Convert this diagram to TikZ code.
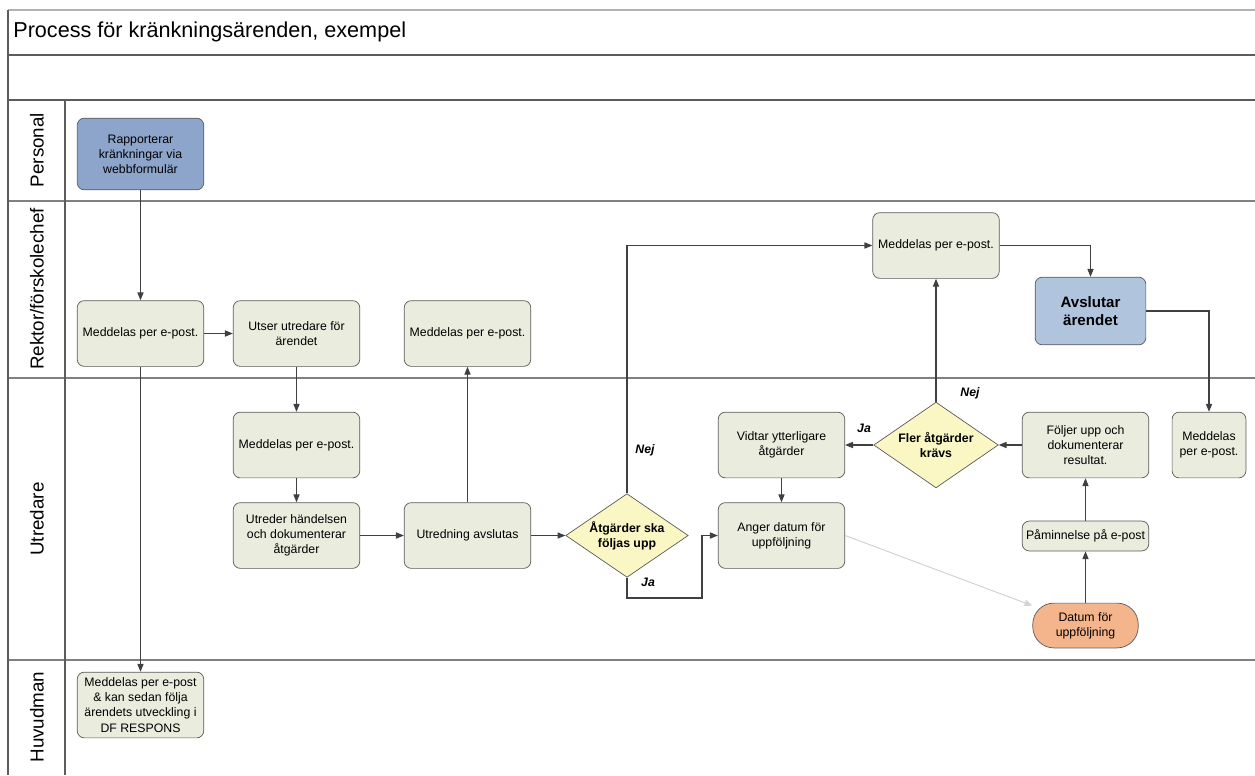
\documentclass[tikz,border=0pt]{standalone}
\usepackage{fontspec}
\setmainfont{Liberation Sans}
\usetikzlibrary{shapes.geometric,arrows.meta}
\definecolor{boxfill}{HTML}{EAEDDE}
\definecolor{boxline}{HTML}{5A5A5A}
\definecolor{startfill}{HTML}{8DA5CB}
\definecolor{endfill}{HTML}{B0C4DE}
\definecolor{choicefill}{HTML}{FBF7C4}
\definecolor{datefill}{HTML}{F5B58C}
\definecolor{flowline}{HTML}{404040}
\definecolor{lightline}{HTML}{D4D4D4}
\definecolor{frameline}{HTML}{5C5C5C}
\tikzset{
  box/.style={draw=boxline, fill=boxfill, rounded corners=4pt, align=center,
    minimum width=72pt, minimum height=37.4pt, inner sep=1pt,
    font=\fontsize{7}{8.6}\selectfont},
  choice/.style={diamond, draw=boxline, fill=choicefill, align=center,
    inner sep=0pt, aspect=1.5, minimum width=69.7pt, minimum height=47.6pt,
    font=\bfseries\fontsize{7}{8.6}\selectfont},
  lane/.style={rotate=90, font=\fontsize{10.7}{12}\selectfont},
  answer/.style={font=\bfseries\itshape\fontsize{7}{8}\selectfont},
  flow/.style={draw=flowline, line width=0.6pt, -{Triangle[length=4.5pt,width=3.5pt]}},
  frame/.style={draw=frameline, line width=0.9pt},
}
\begin{document}
\begin{tikzpicture}[x=0.02cm, y=-0.02cm]
  \useasboundingbox (0,0) rectangle (1255,775);
  % pool and lanes
  \draw[frame, draw=gray!60] (8,10) -- (1255,10);
  \draw[frame] (8,55) -- (1255,55);
  \draw[frame] (8,100) -- (1255,100);
  \draw[frame, draw=gray, line width=0.7pt] (8,201) -- (1255,201) (8,378) -- (1255,378) (8,660) -- (1255,660);
  \draw[frame] (8,10) -- (8,775) (65,100) -- (65,775);
  \node[anchor=west, inner sep=0pt, font=\fontsize{12.3}{14}\selectfont] (title) at (13,32) {Process för kränkningsärenden, exempel};
  \path
    (37,150) node[lane] (personal) {Personal}
    (37,289) node[lane] (rektor) {Rektor/förskolechef}
    (37,519) node[lane] (utredare) {Utredare}
    (37,717) node[lane] (huvudman) {Huvudman};
  % steps
  \path
    (140.5,154) node[box, fill=startfill, minimum height=40.8pt] (0) {Rapporterar\\kränkningar via\\webbformulär}
    (140.5,333.5) node[box] (1) {Meddelas per e-post.}
    (296.5,333.5) node[box] (2) {Utser utredare för\\ärendet}
    (467.5,333.5) node[box] (3) {Meddelas per e-post.}
    (296.5,445) node[box] (4) {Meddelas per e-post.}
    (296.5,535.5) node[box] (5) {Utreder händelsen\\och dokumenterar\\åtgärder}
    (467.5,535.5) node[box] (6) {Utredning avslutas}
    (627,535.5) node[choice] (7) {Åtgärder ska\\följas upp}
    (781.5,535.5) node[box] (8) {Anger datum för\\uppföljning}
    (781.5,445) node[box] (9) {Vidtar ytterligare\\åtgärder}
    (936,445) node[choice, minimum width=70.9pt, minimum height=48.8pt] (10) {Fler åtgärder\\krävs}
    (936,245.5) node[box] (11) {Meddelas per e-post.}
    (1090.5,311) node[box, fill=endfill, minimum width=63pt, minimum height=38.5pt,
      font=\bfseries\fontsize{8.6}{10}\selectfont] (12) {Avslutar\\ärendet}
    (1085.5,445) node[box] (13) {Följer upp och\\dokumenterar\\resultat.}
    (1209,445) node[box, minimum width=42pt] (14) {Meddelas\\per e-post.}
    (1085.5,536) node[box, minimum height=17pt] (15) {Påminnelse på e-post}
    (1085.5,625.5) node[box, fill=datefill, minimum width=60pt, minimum height=25.5pt,
      rounded corners=12pt] (16) {Datum för\\uppföljning}
    (140.5,705) node[box] (17) {Meddelas per e-post\\\& kan sedan följa\\ärendets utveckling i\\DF RESPONS};
  \coordinate (c1) at (702,598);
  \path
    (645,450) node[answer] (nej1) {Nej}
    (970,393) node[answer] (nej2) {Nej}
    (864,428) node[answer] (ja1) {Ja}
    (648,582) node[answer] (ja2) {Ja};
  \begin{scope}[flow]
    \draw (0) to (1);
    \draw (1) to (2);
    \draw (1) to (17);
    \draw (2) to (4);
    \draw (4) to (5);
    \draw (5) to (6);
    \draw (6) to (3);
    \draw (6) to (7);
    \draw (7.south) |- (c1) |- (8.west);
    \draw (7.north) |- (11.west);
    \draw (10) to (11);
    \draw (10) to (9);
    \draw (9) to (8);
    \draw (13) to (10);
    \draw (16) to (15);
    \draw (15) to (13);
    \draw (11.east) -| (12.north);
    \draw (12.east) -| (14.north);
    \draw[draw=lightline] (8.east) to (16);
  \end{scope}
\end{tikzpicture}
\end{document}
